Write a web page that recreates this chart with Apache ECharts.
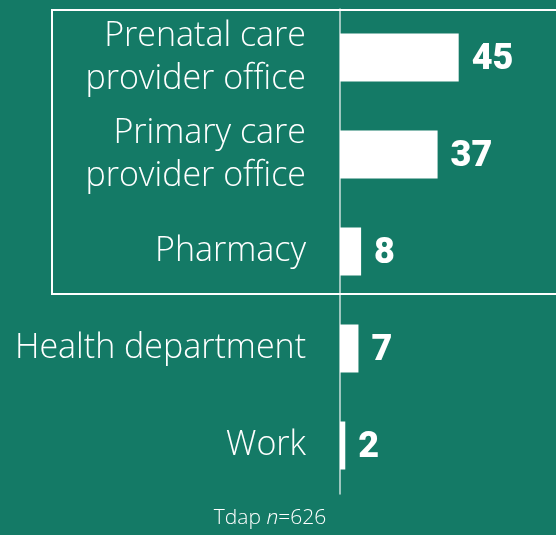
<!DOCTYPE html>
<html><head><meta charset="utf-8">
<script src="https://cdn.jsdelivr.net/npm/echarts@6/dist/echarts.min.js"></script>
<style>html,body{margin:0;padding:0;background:#147a66;}#c{width:556px;height:535px;}</style>
</head><body><div id="c"></div>
<script>
const categories = ["Prenatal care\nprovider office", "Primary care\nprovider office", "Pharmacy", "Health department", "Work"];
const values = [45, 37, 8, 7, 2];
const footnoteLabel = "Tdap";
const footnoteN = "626";

const chart = echarts.init(document.getElementById('c'));
chart.setOption({
  backgroundColor: '#147a66',
  animation: false,
  grid: { left: 340, right: 5, top: 9, height: 485, containLabel: false },
  xAxis: { type: 'value', min: 0, max: 80, show: false },
  yAxis: {
    type: 'category', data: categories, inverse: true,
    axisLine: { show: true, lineStyle: { color: 'rgba(255,255,255,0.78)', width: 1.5 } },
    axisTick: { show: false },
    axisLabel: { color: '#ffffff', fontFamily: 'Open Sans', fontWeight: 300, fontSize: 34, lineHeight: 43, margin: 34, align: 'right', padding: [3, 0, 0, 0] }
  },
  series: [{
    type: 'bar', data: values, barWidth: 48,
    itemStyle: { color: '#ffffff' },
    label: { show: true, position: 'right', distance: 13, offset: [0, 2], color: '#ffffff', fontFamily: 'Roboto', fontWeight: 900, fontSize: 36 }
  }],
  graphic: [
    { type: 'rect', shape: { x: 52, y: 10, width: 520, height: 284 }, style: { fill: 'none', stroke: '#ffffff', lineWidth: 2 }, z: 10 },
    { type: 'text', x: 270, y: 508, style: {
        text: '{a|' + footnoteLabel + ' }{i|n}{a|=' + footnoteN + '}', align: 'center',
        rich: { a: { fill: '#ffffff', fontFamily: 'Open Sans', fontWeight: 300, fontSize: 21 }, i: { fill: '#ffffff', fontFamily: 'Open Sans', fontWeight: 300, fontStyle: 'italic', fontSize: 21 } }
      } }
  ]
});
</script></body></html>
